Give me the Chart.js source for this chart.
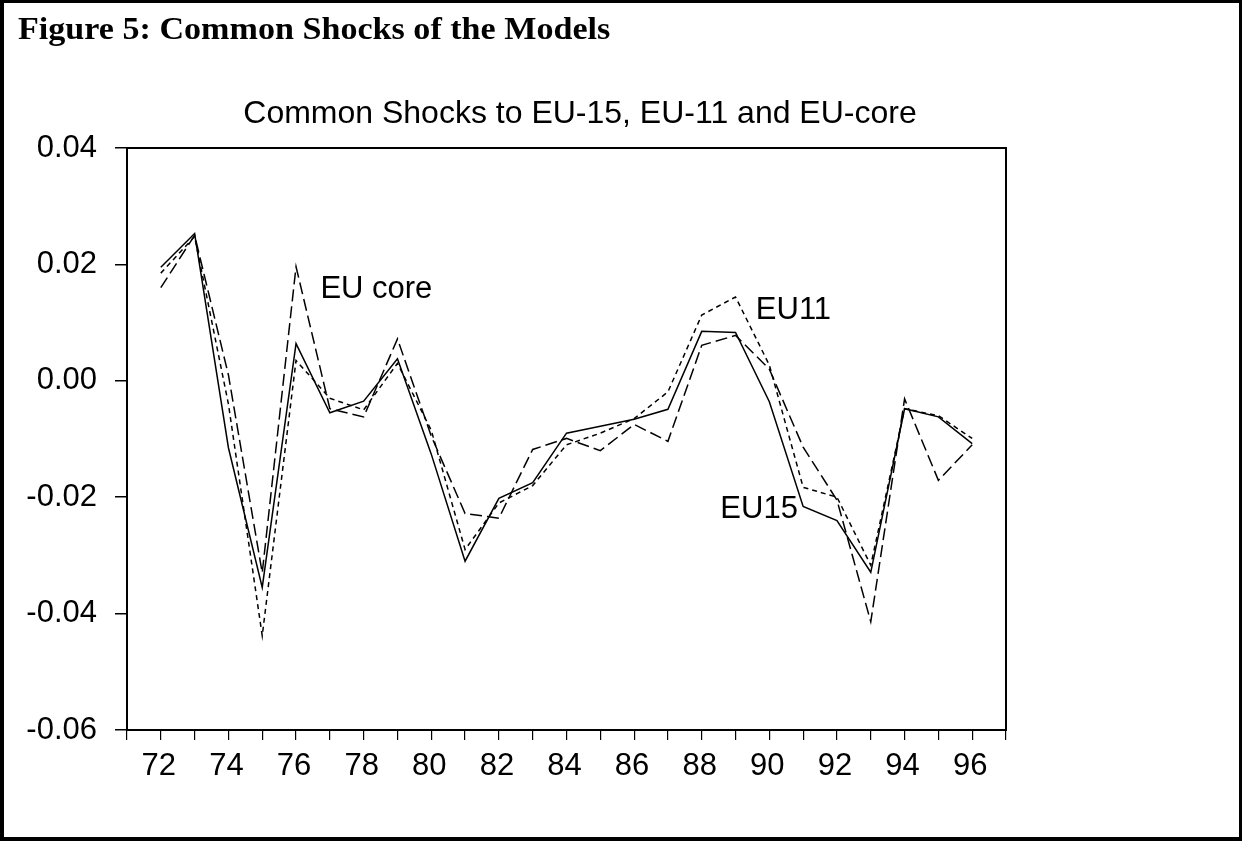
<!DOCTYPE html>
<html>
<head>
<meta charset="utf-8">
<script src="https://cdn.jsdelivr.net/npm/chart.js@4/dist/chart.umd.min.js"></script>
<style>
  html, body { margin: 0; padding: 0; background: #fff; }
  #wrap { position: relative; width: 1243px; height: 841px; overflow: hidden; }
  #frame { position: absolute; left: 0; top: 0; width: 1242px; height: 841px; box-sizing: border-box;
           border-left: 4px solid #000; border-top: 3px solid #000; border-right: 3px solid #000; border-bottom: 4px solid #000; }
  #head { position: absolute; left: 18px; top: 13px; font: bold 31px "Liberation Serif", "Times New Roman", serif;
          line-height: 31px; white-space: nowrap; color: #000; transform: scaleX(1.1); transform-origin: 0 0; }
  canvas { position: absolute; left: 0; top: 0; }
</style>
</head>
<body>
<div id="wrap">
  <canvas id="c" width="1243" height="841"></canvas>
  <div id="frame"></div>
  <div id="head">Figure 5: Common Shocks of the Models</div>
</div>
<script>
const chartTitle = "Common Shocks to EU-15, EU-11 and EU-core";
const years = [72,73,74,75,76,77,78,79,80,81,82,83,84,85,86,87,88,89,90,91,92,93,94,95,96];
const eu15   = [0.0195, 0.0253, -0.0115, -0.0355, 0.0064, -0.0055, -0.0035, 0.0038, -0.0126, -0.0310, -0.0202, -0.0175, -0.0090, -0.0078, -0.0066, -0.0049, 0.0085, 0.0083, -0.0036, -0.0216, -0.0240, -0.0329, -0.0048, -0.0062, -0.0108];
const eu11   = [0.0185, 0.0248, -0.0040, -0.0438, 0.0035, -0.0030, -0.0050, 0.0030, -0.0085, -0.0290, -0.0210, -0.0180, -0.0110, -0.0090, -0.0065, -0.0019, 0.0113, 0.0144, 0.0027, -0.0183, -0.0200, -0.0317, -0.0048, -0.0060, -0.0099];
const euCore = [0.0160, 0.0250, 0.0010, -0.0330, 0.0196, -0.0048, -0.0062, 0.0072, -0.0095, -0.0228, -0.0236, -0.0118, -0.0099, -0.0120, -0.0075, -0.0104, 0.0061, 0.0078, 0.0020, -0.0114, -0.0205, -0.0414, -0.0031, -0.0171, -0.0110];
const seriesLabels = ["EU15", "EU11", "EU core"];
const yTicks = [-0.06, -0.04, -0.02, 0.00, 0.02, 0.04];

const FONT = '"Liberation Sans", Arial, sans-serif';
Chart.defaults.font.family = FONT;
Chart.defaults.color = '#000';

const pts = arr => years.map((yr, i) => ({ x: yr, y: arr[i] }));

const decor = {
  id: 'decor',
  afterDraw(chart) {
    const { ctx, chartArea: a, scales } = chart;
    ctx.save();
    ctx.strokeStyle = '#000';
    ctx.lineWidth = 2;
    ctx.strokeRect(a.left, a.top, a.right - a.left, a.bottom - a.top);
    ctx.fillStyle = '#000';
    ctx.font = '32px ' + FONT;
    ctx.textBaseline = 'alphabetic';
    ctx.textAlign = 'center';
    ctx.fillText(chartTitle, 580, 123);
    ctx.textAlign = 'left';
    ctx.font = '31px ' + FONT;
    const xs = scales.x, ys = scales.y;
    // series labels placed in data coordinates
    ctx.fillText(seriesLabels[2], xs.getPixelForValue(76.72), ys.getPixelForValue(0.0142));
    ctx.fillText(seriesLabels[1], xs.getPixelForValue(89.6), ys.getPixelForValue(0.0107));
    ctx.fillText(seriesLabels[0], xs.getPixelForValue(88.55), ys.getPixelForValue(-0.0236));
    ctx.restore();
  }
};

new Chart(document.getElementById('c'), {
  type: 'line',
  data: {
    datasets: [
      { label: seriesLabels[0], data: pts(eu15),   borderColor: '#000', borderWidth: 1.5, pointRadius: 0, tension: 0, fill: false },
      { label: seriesLabels[1], data: pts(eu11),   borderColor: '#000', borderWidth: 1.5, pointRadius: 0, tension: 0, fill: false, borderDash: [5, 4] },
      { label: seriesLabels[2], data: pts(euCore), borderColor: '#000', borderWidth: 1.5, pointRadius: 0, tension: 0, fill: false, borderDash: [12, 5] }
    ]
  },
  options: {
    responsive: false,
    animation: false,
    devicePixelRatio: 1,
    layout: { padding: { left: 0, right: 237, top: 148, bottom: 51 } },
    plugins: { legend: { display: false }, tooltip: { enabled: false }, title: { display: false } },
    scales: {
      x: {
        type: 'linear', min: 71, max: 97,
        afterFit: s => { s.height = 60; },
        afterBuildTicks: s => { s.ticks = []; for (let v = 71; v <= 97; v++) s.ticks.push({ value: v }); },
        ticks: { autoSkip: false, maxRotation: 0, padding: 8, labelOffset: -2, font: { size: 31 }, color: '#000',
                 callback: v => (years.includes(v) && v % 2 === 0) ? String(v) : '' },
        grid: { drawOnChartArea: false, drawTicks: true, tickLength: 10, color: '#000', lineWidth: 1.2 },
        border: { display: true, color: '#000', width: 2 }
      },
      y: {
        type: 'linear', min: -0.06, max: 0.04,
        afterFit: s => { s.width = 127; },
        afterBuildTicks: s => { s.ticks = yTicks.map(v => ({ value: v })); },
        ticks: { padding: 18, font: { size: 31 }, color: '#000', callback: v => Number(v).toFixed(2) },
        grid: { drawOnChartArea: false, drawTicks: true, tickLength: 12, color: '#000', lineWidth: 1.5 },
        border: { display: true, color: '#000', width: 2 }
      }
    }
  },
  plugins: [decor]
});
</script>
</body>
</html>
